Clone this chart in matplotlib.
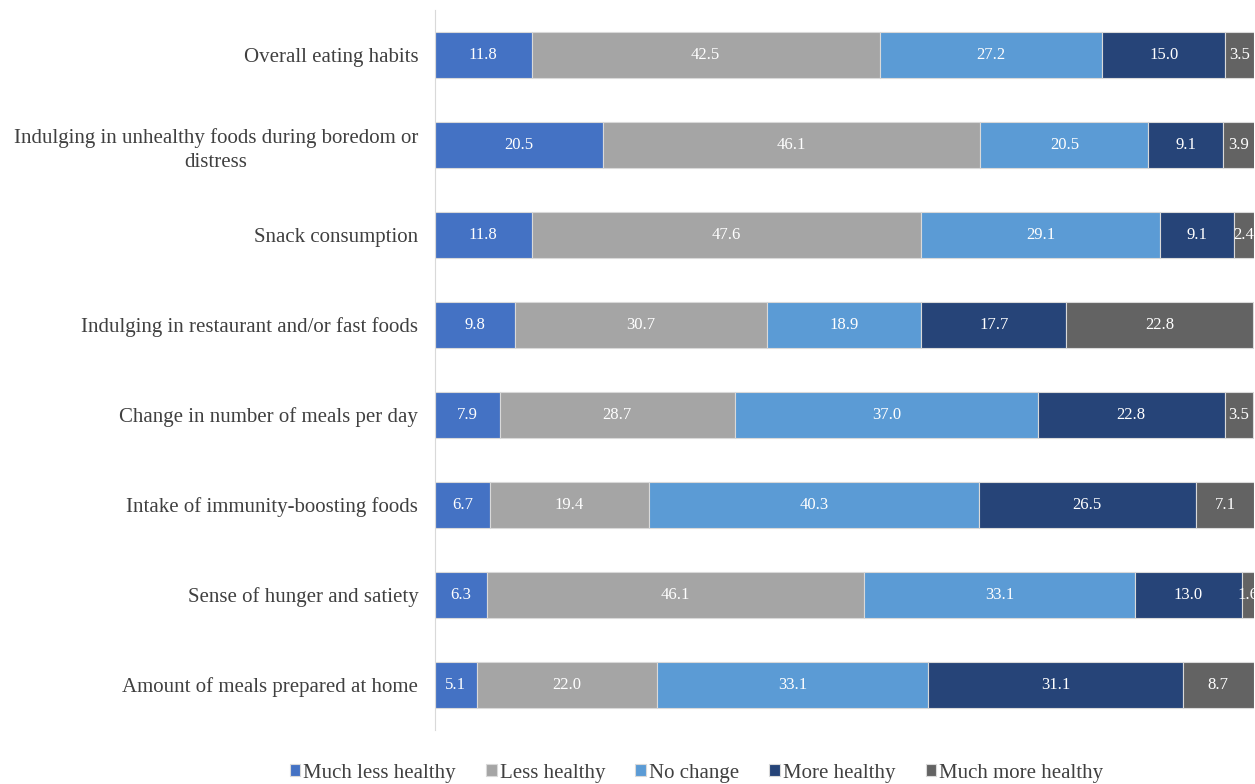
import matplotlib.pyplot as plt
import numpy as np

categories = ['Overall eating habits',
              'Indulging in unhealthy foods during boredom or\ndistress',
              'Snack consumption',
              'Indulging in restaurant and/or fast foods',
              'Change in number of meals per day',
              'Intake of immunity-boosting foods',
              'Sense of hunger and satiety',
              'Amount of meals prepared at home']

much_less = [11.8, 20.5, 11.8, 9.8, 7.9, 6.7, 6.3, 5.1]
less = [42.5, 46.1, 47.6, 30.7, 28.7, 19.4, 46.1, 22.0]
no_change = [27.2, 20.5, 29.1, 18.9, 37.0, 40.3, 33.1, 33.1]
more = [15.0, 9.1, 9.1, 17.7, 22.8, 26.5, 13.0, 31.1]
much_more = [3.5, 3.9, 2.4, 22.8, 3.5, 7.1, 1.6, 8.7]

series = [('Much less healthy', much_less, '#4472C4'),
          ('Less healthy', less, '#A5A5A5'),
          ('No change', no_change, '#5B9BD5'),
          ('More healthy', more, '#264478'),
          ('Much more healthy', much_more, '#636363')]

plt.rcParams['font.family'] = ['Liberation Serif', 'DejaVu Serif']

fig = plt.figure(figsize=(12.55, 7.84), dpi=100)
ax = fig.add_axes([0.3466, 0.0689, 0.6526, 0.9183])

y = np.arange(len(categories))
left = np.zeros(len(categories))
for name, vals, color in series:
    vals = np.array(vals)
    bars = ax.barh(y, vals, left=left, height=0.51, color=color, label=name,
                   edgecolor='#D9D9D9', linewidth=0.8)
    for b, v in zip(bars, vals):
        ax.text(b.get_x() + b.get_width() / 2, b.get_y() + b.get_height() / 2,
                f'{v:.1f}', ha='center', va='center', color='white', fontsize=12)
    left += vals

ax.set_xlim(0, 100)
ax.set_ylim(len(categories) - 0.5, -0.5)
ax.set_yticks(y)
ax.set_yticklabels(categories, fontsize=15, color='#404040',
                   multialignment='center', linespacing=1.35)
ax.tick_params(axis='y', length=0, pad=12)
ax.set_xticks([])
for s in ['top', 'right', 'bottom']:
    ax.spines[s].set_visible(False)
ax.spines['left'].set_color('#D9D9D9')

leg = fig.legend(loc='center', bbox_to_anchor=(0.555, 0.014), ncol=5, frameon=False,
                 fontsize=15, handlelength=0.5, handleheight=0.5, handletextpad=0.15,
                 columnspacing=1.45)
for t in leg.get_texts():
    t.set_color('#404040')

fig.savefig('out.png', dpi=100)
